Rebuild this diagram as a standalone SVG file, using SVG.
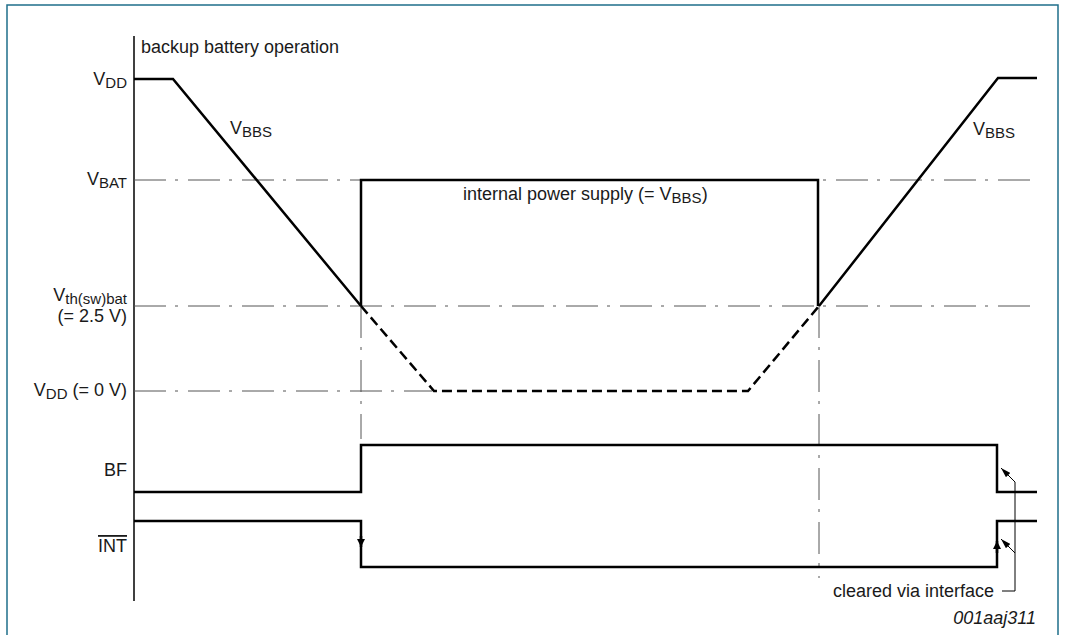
<svg xmlns="http://www.w3.org/2000/svg" width="1065" height="635" viewBox="0 0 1065 635">
<style>
text{font-family:"Liberation Sans",Arial,sans-serif;font-size:18px;fill:#1a1a1a}
.sub{font-size:15px}
.ref{stroke:#555;stroke-width:1;fill:none;stroke-dasharray:32 9 3 10}
.sig{stroke:#000;stroke-width:2.5;fill:none;stroke-linejoin:miter}
.dash{stroke:#000;stroke-width:2.5;fill:none;stroke-dasharray:10 5}
.thin{stroke:#000;stroke-width:1;fill:none}
.frame{stroke:#1f6f8b;stroke-width:1.5;fill:none}
</style>
<defs>
<marker id="ah" markerUnits="userSpaceOnUse" viewBox="0 0 10 6" refX="10" refY="3" markerWidth="10" markerHeight="6" orient="auto"><path d="M0,0 L10,3 L0,6 z" fill="#000"/></marker>
<marker id="ahb" markerUnits="userSpaceOnUse" viewBox="0 0 8 8" refX="8" refY="4" markerWidth="8" markerHeight="8" orient="auto"><path d="M0,0 L8,4 L0,8 z" fill="#000"/></marker>
</defs>
<path class="frame" d="M7,635 V5 H1058 V635"/>
<g id="axis"><line x1="134" y1="36" x2="134" y2="601" stroke="#000" stroke-width="1.5"/></g>
<g id="reference-lines">
<line class="ref" x1="134" y1="180" x2="1036" y2="180"/>
<line class="ref" x1="134" y1="306" x2="1036" y2="306"/>
<line class="ref" x1="134" y1="391" x2="432" y2="391"/>
<line class="ref" x1="361" y1="306" x2="361" y2="439"/>
<line class="ref" x1="819" y1="306" x2="819" y2="578"/>
</g>
<g id="labels">
<text x="141" y="53">backup battery operation</text>
<text x="127" y="85" text-anchor="end">V<tspan class="sub" dy="3">DD</tspan></text>
<text x="127" y="185" text-anchor="end">V<tspan class="sub" dy="3">BAT</tspan></text>
<text x="127" y="301" text-anchor="end">V<tspan class="sub" dy="3">th(sw)bat</tspan></text>
<text x="127" y="322" text-anchor="end">(= 2.5 V)</text>
<text x="127" y="396" text-anchor="end">V<tspan class="sub" dy="3">DD</tspan><tspan dy="-3"> (= 0 V)</tspan></text>
<text x="127" y="476" text-anchor="end">BF</text>
<text x="127" y="552" text-anchor="end" text-decoration="overline">INT</text>
<text x="230" y="134">V<tspan class="sub" dy="3">BBS</tspan></text>
<text x="973" y="135">V<tspan class="sub" dy="3">BBS</tspan></text>
<text x="463" y="200">internal power supply (= V<tspan class="sub" dy="3">BBS</tspan><tspan dy="-3">)</tspan></text>
<text x="994" y="597" text-anchor="end">cleared via interface</text>
<text x="1036" y="624" text-anchor="end" font-style="italic" font-size="16">001aaj311</text>
</g>
<g id="vbbs">
<path class="sig" d="M134,79 H173 L361,306"/>
<path class="dash" d="M361,306 L434,391 H748 L819,306"/>
<path class="sig" d="M819,306 L998,78 H1037"/>
</g>
<g id="internal-supply"><path class="sig" d="M361,306 V180 H818 V306"/></g>
<g id="bf"><path class="sig" d="M134,492 H361 V445 H997 V492 H1037"/></g>
<g id="int"><path class="sig" d="M134,521 H361 V567 H997 V521 H1037"/></g>
<g id="connectors">
<path class="sig" d="M361,536 V547" marker-end="url(#ahb)"/>
<path class="sig" d="M997,553 V541" marker-end="url(#ahb)"/>
<path class="thin" d="M1002,591 H1015 V482 L1001,468" marker-end="url(#ah)"/>
<path class="thin" d="M1015,553 L1001,539" marker-end="url(#ah)"/>
</g>
</svg>
